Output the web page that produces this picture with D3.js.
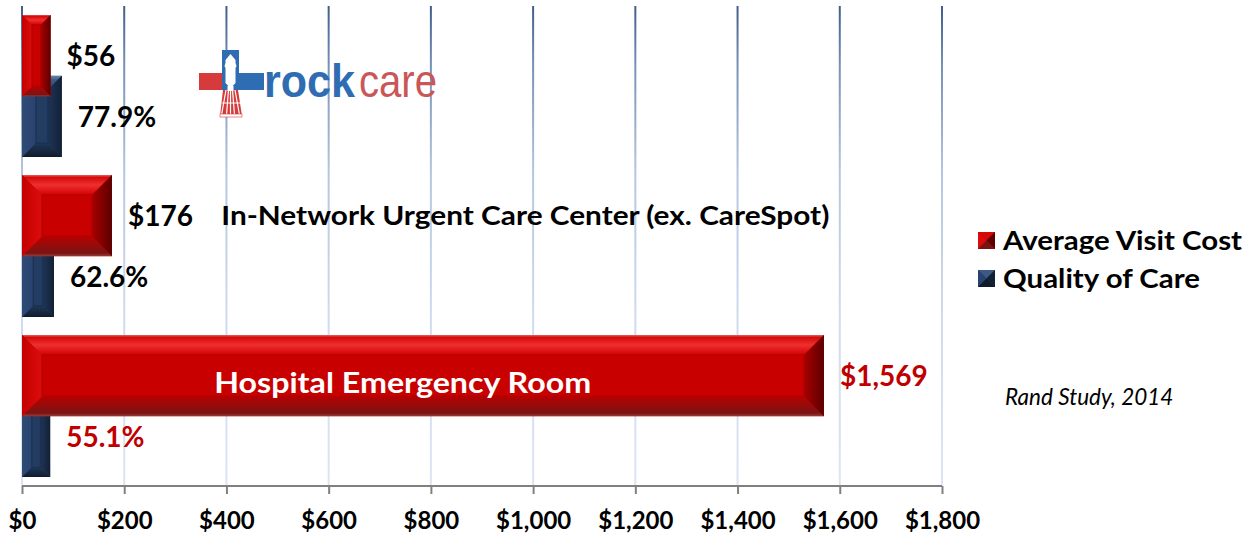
<!DOCTYPE html>
<html>
<head>
<meta charset="utf-8">
<script src="https://cdn.jsdelivr.net/npm/d3@7"></script>
<style>
  body { margin: 0; background: #fff; }
  text { font-family: Lato, "Open Sans", sans-serif; }
</style>
</head>
<body>
<div id="chart"></div>
<script>
// data
var categories = ["Rockcare", "In-Network Urgent Care Center (ex. CareSpot)", "Hospital Emergency Room"];
var visitCost = [56, 176, 1569];
var qualityOfCare = [77.9, 62.6, 55.1];
var tickValues = [0, 200, 400, 600, 800, 1000, 1200, 1400, 1600, 1800];
var seriesNames = ["Average Visit Cost", "Quality of Care"];
var highlightCategory = "Hospital Emergency Room";
var sourceNote = "Rand Study, 2014";

var width = 1256, height = 535;

var svg = d3.select("#chart").append("svg")
    .attr("width", width)
    .attr("height", height);

var x = d3.scaleLinear()
    .domain([0, 1800])
    .range([22, 942]);

var y = d3.scaleBand()
    .domain(categories)
    .range([6, 486])
    .paddingInner(0.1125)
    .paddingOuter(0.05625);

var barH = y.bandwidth() / 1.75;

var rows = categories.map(function(c, i){
  return {cat: c, cost: visitCost[i], quality: qualityOfCare[i]};
});

var defs = svg.append("defs");

// gridline gradient (dark at top, light near the axis)
var gg = defs.append("linearGradient")
    .attr("id", "gridGrad")
    .attr("gradientUnits", "userSpaceOnUse")
    .attr("x1", 0).attr("x2", 0)
    .attr("y1", y.range()[0]).attr("y2", y.range()[1]);
[[0, "#3f5e8a"], [0.12, "#7590b4"], [0.35, "#b6c6df"], [0.65, "#cfdbee"], [1, "#dce5f3"]].forEach(function(s){
  gg.append("stop").attr("offset", s[0]).attr("stop-color", s[1]);
});

// bevel palettes
var palettes = {
  red: {
    face: "#c90000",
    top: [[0, "#e86060"], [0.12, "#d40a0a"], [0.5, "#ef2f2f"], [1, "#d20000"]],
    bottom: [[0, "#b80000"], [0.85, "#7a1414"], [1, "#9a3a3a"]],
    left: [[0, "#c40000"], [1, "#dc0c0c"]],
    right: [[0, "#a80000"], [1, "#5c0000"]]
  },
  blue: {
    face: "#233d62",
    top: [[0, "#6a84a8"], [0.3, "#3c5a84"], [1, "#2b466d"]],
    bottom: [[0, "#1f375a"], [1, "#0f1b2d"]],
    left: [[0, "#2f4b74"], [1, "#284370"]],
    right: [[0, "#1f3556"], [1, "#122036"]]
  }
};

Object.keys(palettes).forEach(function(name){
  var p = palettes[name];
  ["top", "bottom", "left", "right"].forEach(function(side){
    var vertical = side == "top" || side == "bottom";
    var lg = defs.append("linearGradient")
        .attr("id", name + "-" + side)
        .attr("x1", 0).attr("y1", 0)
        .attr("x2", vertical ? 0 : 1)
        .attr("y2", vertical ? 1 : 0);
    p[side].forEach(function(s){
      lg.append("stop").attr("offset", s[0]).attr("stop-color", s[1]);
    });
  });
});

function bevelBar(g, x0, y0, w, h, name){
  var b = Math.min(20, w * 0.35, h * 0.35);
  var x1 = x0 + w, y1 = y0 + h;
  var pts = function(a){ return a.map(function(p){ return p.join(","); }).join(" "); };
  g.append("rect")
    .attr("x", x0).attr("y", y0).attr("width", w).attr("height", h)
    .attr("fill", palettes[name].face);
  g.append("polygon").attr("points", pts([[x0, y0], [x1, y0], [x1 - b, y0 + b], [x0 + b, y0 + b]]))
    .attr("fill", "url(#" + name + "-top)");
  g.append("polygon").attr("points", pts([[x0, y1], [x1, y1], [x1 - b, y1 - b], [x0 + b, y1 - b]]))
    .attr("fill", "url(#" + name + "-bottom)");
  g.append("polygon").attr("points", pts([[x0, y0], [x0 + b, y0 + b], [x0 + b, y1 - b], [x0, y1]]))
    .attr("fill", "url(#" + name + "-left)");
  g.append("polygon").attr("points", pts([[x1, y0], [x1 - b, y0 + b], [x1 - b, y1 - b], [x1, y1]]))
    .attr("fill", "url(#" + name + "-right)");
  if (w - 2 * b > 4) {
    g.append("rect")
      .attr("x", x0 + b).attr("y", y0 + b).attr("width", w - 2 * b).attr("height", h - 2 * b)
      .attr("fill", "none")
      .attr("stroke", name == "red" ? "#b00000" : "#1a2f4d")
      .attr("stroke-width", 1);
  }
}

// gridlines
svg.append("g")
  .selectAll("line")
  .data(tickValues)
  .enter().append("line")
  .attr("x1", function(d){ return x(d); })
  .attr("x2", function(d){ return x(d); })
  .attr("y1", y.range()[0])
  .attr("y2", y.range()[1])
  .attr("stroke", "url(#gridGrad)")
  .attr("stroke-width", 2);

// logo (decoration in the top category)
var logo = svg.append("g").attr("transform", "translate(199,50)");
logo.append("rect").attr("x", 0).attr("y", 23).attr("width", 24).attr("height", 17).attr("fill", "#d63a3a");
logo.append("rect").attr("x", 23).attr("y", 0).attr("width", 17).attr("height", 40).attr("fill", "#2f6db2");
logo.append("rect").attr("x", 39).attr("y", 23).attr("width", 26).attr("height", 17).attr("fill", "#2f6db2");
logo.append("path")
  .attr("d", "M24,40 L39,40 L43,66 L21,66 Z")
  .attr("fill", "#d63a3a");
logo.append("path")
  .attr("d", "M31.5,4 L26.5,10 L26.5,13 Q24.8,15.5 26.5,18 L26.5,33 Q31.5,40 36.5,33 L36.5,18 Q38.2,15.5 36.5,13 L36.5,10 Z")
  .attr("fill", "#fff");
logo.append("rect").attr("x", 28.5).attr("y", 36).attr("width", 6).attr("height", 5).attr("fill", "#fff");
[[27, 22.5], [29.5, 27.5], [31.5, 31.5], [33.5, 35.5], [36, 40.5]].forEach(function(l){
  logo.append("line").attr("x1", l[0]).attr("y1", 40).attr("x2", l[1]).attr("y2", 65)
    .attr("stroke", "#fff").attr("stroke-width", 1.2);
});
logo.append("line").attr("x1", 23).attr("y1", 53).attr("x2", 41).attr("y2", 53)
  .attr("stroke", "#fff").attr("stroke-width", 1);
logo.append("rect").attr("x", 21).attr("y", 64).attr("width", 22).attr("height", 3).attr("fill", "#fff")
  .attr("stroke", "#d63a3a").attr("stroke-width", 0.6);
logo.append("text")
  .attr("x", 65).attr("y", 47)
  .style("font-family", "'Liberation Sans', Arial, sans-serif")
  .attr("font-weight", "bold")
  .attr("font-size", 46)
  .attr("fill", "#2f6db2")
  .attr("textLength", 91)
  .attr("lengthAdjust", "spacingAndGlyphs")
  .text("rock");
logo.append("text")
  .attr("x", 160).attr("y", 47)
  .style("font-family", "'Liberation Sans', Arial, sans-serif")
  .attr("font-weight", "normal")
  .attr("font-size", 46)
  .attr("fill", "#c95757")
  .attr("textLength", 78)
  .attr("lengthAdjust", "spacingAndGlyphs")
  .text("care");

// bars: quality first, cost on top
var groups = svg.append("g")
  .selectAll("g")
  .data(rows)
  .enter().append("g");

groups.each(function(d){
  var g = d3.select(this);
  bevelBar(g.append("g"), x(0), y(d.cat) + 0.75 * barH, x(d.quality) - x(0), barH, "blue");
  bevelBar(g.append("g"), x(0), y(d.cat), x(d.cost) - x(0), barH, "red");
});

// value labels
var fmtCost = d3.format("$,");
groups.append("text")
  .attr("x", function(d){ return x(d.cost) + 16; })
  .attr("y", function(d){ return y(d.cat) + barH / 2; })
  .attr("dy", "0.36em")
  .attr("font-weight", "bold")
  .attr("font-size", 28)
  .attr("fill", function(d){ return d.cat == highlightCategory ? "#c00000" : "#000"; })
  .text(function(d){ return fmtCost(d.cost); });

groups.append("text")
  .attr("x", function(d){ return x(d.quality) + 16; })
  .attr("y", function(d){ return y(d.cat) + 0.75 * barH + barH / 2; })
  .attr("dy", "0.36em")
  .attr("font-weight", "bold")
  .attr("font-size", 28)
  .attr("fill", function(d){ return d.cat == highlightCategory ? "#c00000" : "#000"; })
  .text(function(d){ return d.quality.toFixed(1) + "%"; });

// category captions
svg.append("text")
  .attr("x", x(390))
  .attr("y", y(categories[1]) + barH / 2)
  .attr("dy", "0.36em")
  .attr("font-weight", "bold")
  .attr("font-size", 26)
  .attr("fill", "#000")
  .attr("textLength", 608)
  .attr("lengthAdjust", "spacingAndGlyphs")
  .text(categories[1]);

svg.append("text")
  .attr("x", x(376))
  .attr("y", y(categories[2]) + barH / 2 + 7)
  .attr("dy", "0.36em")
  .attr("font-weight", "bold")
  .attr("font-size", 28)
  .attr("fill", "#fff")
  .attr("textLength", 377)
  .attr("lengthAdjust", "spacingAndGlyphs")
  .text(categories[2]);

// x axis
var xAxis = d3.axisBottom(x)
  .tickValues(tickValues)
  .tickSize(8)
  .tickFormat(d3.format("$,"));

var axisG = svg.append("g")
  .attr("transform", "translate(0," + y.range()[1] + ")")
  .call(xAxis);
axisG.select(".domain")
  .attr("d", "M" + x.range()[0] + ",0H" + x.range()[1])
  .attr("stroke", "#808080")
  .attr("stroke-width", 2);
axisG.selectAll(".tick line").attr("stroke", "#808080").attr("stroke-width", 2);
axisG.selectAll(".tick text")
  .attr("y", 34)
  .attr("dy", "0.36em")
  .attr("fill", "#000")
  .style("font-family", "Lato, 'Open Sans', sans-serif")
  .attr("font-size", 24)
  .attr("font-weight", "bold");

// legend
var legendWidths = [239, 197];
var legend = svg.append("g")
  .selectAll("g")
  .data(seriesNames)
  .enter().append("g")
  .attr("transform", function(d, i){ return "translate(978," + (232 + i * 38) + ")"; });

legend.each(function(d, i){
  var g = d3.select(this);
  var s = 17;
  var pal = i == 0 ? palettes.red : palettes.blue;
  g.append("rect").attr("width", s).attr("height", s).attr("fill", pal.face);
  g.append("polygon").attr("points", "0,0 " + s + ",0 " + s / 2 + "," + s / 2).attr("fill", pal.top[1][1]);
  g.append("polygon").attr("points", "0,0 0," + s + " " + s / 2 + "," + s / 2).attr("fill", pal.left[1][1]);
  g.append("polygon").attr("points", s + ",0 " + s + "," + s + " " + s / 2 + "," + s / 2).attr("fill", pal.right[1][1]);
  g.append("polygon").attr("points", "0," + s + " " + s + "," + s + " " + s / 2 + "," + s / 2).attr("fill", pal.bottom[1][1]);
  g.append("text")
    .attr("x", 25)
    .attr("y", s / 2)
    .attr("dy", "0.36em")
    .attr("font-weight", "bold")
    .attr("font-size", 27)
    .attr("fill", "#000")
    .attr("textLength", legendWidths[i])
    .attr("lengthAdjust", "spacingAndGlyphs")
    .text(d);
});

// source note
svg.append("text")
  .attr("x", 1005)
  .attr("y", 397)
  .attr("dy", "0.36em")
  .attr("font-style", "italic")
  .attr("font-size", 22.5)
  .attr("fill", "#000")
  .text(sourceNote);
</script>
</body>
</html>
